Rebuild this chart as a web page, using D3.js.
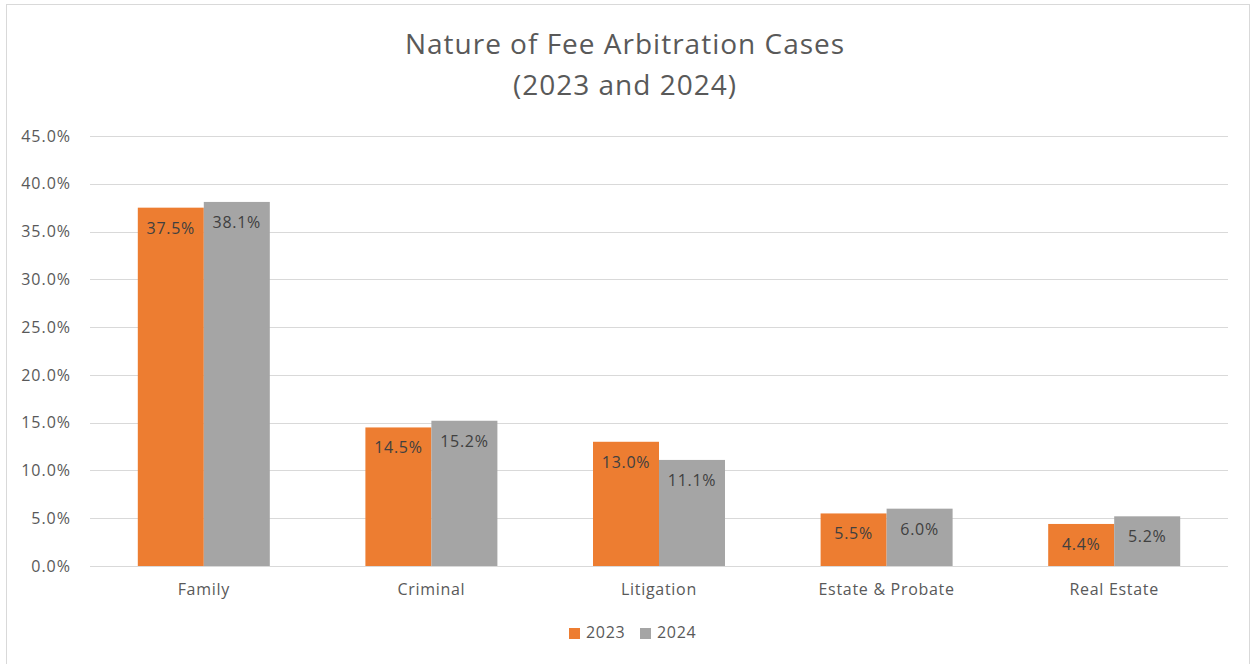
<!DOCTYPE html>
<html>
<head>
<meta charset="utf-8">
<script src="https://cdn.jsdelivr.net/npm/d3@7"></script>
<style>
  body { margin: 0; background: #fff; }
  text { font-family: "Open Sans", "Noto Sans", sans-serif; }
</style>
</head>
<body>
<svg id="chart" width="1254" height="664"></svg>
<script>
const categories = ["Family", "Criminal", "Litigation", "Estate & Probate", "Real Estate"];
const years = ["2023", "2024"];
const values2023 = [37.5, 14.5, 13.0, 5.5, 4.4];
const values2024 = [38.1, 15.2, 11.1, 6.0, 5.2];
const yTicks = [0, 5, 10, 15, 20, 25, 30, 35, 40, 45];
const colors = ["#ED7D31", "#A5A5A5"];

const svg = d3.select("#chart");

// outer frame
svg.append("rect")
  .attr("x", 6.5).attr("y", 4.5)
  .attr("width", 1243).attr("height", 670)
  .attr("fill", "#fff").attr("stroke", "#d9d9d9");

// title
const title = svg.append("text")
  .attr("text-anchor", "middle")
  .attr("fill", "#595959")
  .style("font-size", "28px")
  .style("letter-spacing", "1px");
title.append("tspan").attr("x", 625).attr("y", 54).text("Nature of Fee Arbitration Cases");
title.append("tspan").attr("x", 625).attr("y", 95).text("(2023 and 2024)");

const x0 = d3.scaleBand().domain(categories).range([90, 1228]);
const x1 = d3.scaleBand().domain(years).range([0, 132]);
const groupOffset = (x0.bandwidth() - 132) / 2;
const y = d3.scaleLinear().domain([0, 45]).range([566, 136]);

// gridlines
svg.append("g")
  .selectAll("line")
  .data(yTicks)
  .join("line")
  .attr("x1", 90).attr("x2", 1228)
  .attr("y1", d => Math.round(y(d)) + 0.5)
  .attr("y2", d => Math.round(y(d)) + 0.5)
  .attr("stroke", "#d9d9d9").attr("stroke-width", 1);

// y axis labels
const yAxis = svg.append("g")
  .attr("transform", "translate(71,0)")
  .call(d3.axisLeft(y).tickValues(yTicks).tickFormat(d => d.toFixed(1) + "%").tickSize(0).tickPadding(0));
yAxis.select(".domain").remove();
yAxis.selectAll("text")
  .attr("fill", "#595959")
  .style("font-size", "16px")
  .style("letter-spacing", "1px")
  .style("font-family", "'Open Sans', 'Noto Sans', sans-serif");

// bars
const rows = categories.map((c, i) => ({ cat: c, vals: [values2023[i], values2024[i]] }));
const groups = svg.append("g")
  .selectAll("g")
  .data(rows)
  .join("g")
  .attr("transform", d => `translate(${x0(d.cat) + groupOffset},0)`);

groups.selectAll("rect")
  .data(d => d.vals.map((v, j) => ({ year: years[j], v, j })))
  .join("rect")
  .attr("x", d => x1(d.year))
  .attr("y", d => y(d.v))
  .attr("width", x1.bandwidth())
  .attr("height", d => y(0) - y(d.v))
  .attr("fill", d => colors[d.j]);

groups.selectAll("text.lbl")
  .data(d => d.vals.map((v, j) => ({ year: years[j], v, j })))
  .join("text")
  .attr("class", "lbl")
  .attr("x", d => x1(d.year) + x1.bandwidth() / 2)
  .attr("y", d => y(d.v) + 26)
  .attr("text-anchor", "middle")
  .attr("fill", "#404040")
  .style("font-size", "16px")
  .style("letter-spacing", "0.7px")
  .text(d => d.v.toFixed(1) + "%");

// category labels
svg.append("g")
  .selectAll("text")
  .data(categories)
  .join("text")
  .attr("x", d => x0(d) + x0.bandwidth() / 2)
  .attr("y", 595)
  .attr("text-anchor", "middle")
  .attr("fill", "#595959")
  .style("font-size", "16px")
  .style("letter-spacing", "0.7px")
  .text(d => d);

// legend
const legend = svg.append("g").attr("transform", "translate(569,628)");
const legendPos = [0, 71];
years.forEach((yr, i) => {
  const g = legend.append("g").attr("transform", `translate(${legendPos[i]},0)`);
  g.append("rect").attr("x", 0).attr("y", 0).attr("width", 11).attr("height", 11).attr("fill", colors[i]);
  g.append("text").attr("x", 17).attr("y", 10).attr("fill", "#595959")
    .style("font-size", "16px").style("letter-spacing", "0.7px").text(yr);
});
</script>
</body>
</html>
